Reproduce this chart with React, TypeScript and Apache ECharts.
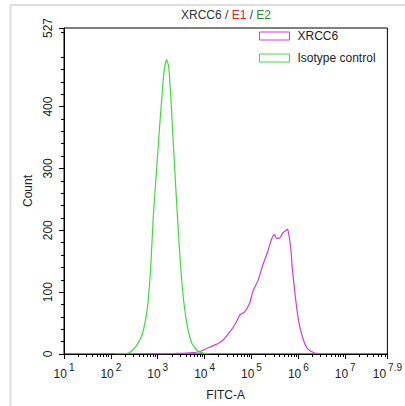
import React, { useEffect, useRef } from "react";
import * as echarts from "echarts";

// FITC-A expressed as log10 values
const isoLog = [2.1, 2.39, 2.53, 2.67, 2.78, 2.85, 2.905, 2.97, 3.03, 3.1, 3.14, 3.19, 3.237, 3.29, 3.34, 3.4, 3.46, 3.53, 3.62, 3.73, 3.87, 4.0, 4.12];
const isoCount = [0, 2, 12, 32, 75, 140, 222, 292, 357, 427, 460, 476, 462, 400, 330, 249, 173, 103, 50, 17, 4, 1, 0];

const xrccLog = [2.8, 3.0, 3.4, 3.7, 3.9, 4.08, 4.2, 4.29, 4.4, 4.51, 4.6, 4.68, 4.75, 4.855, 4.96, 5.03, 5.14, 5.24, 5.35, 5.42, 5.49, 5.535, 5.61, 5.67, 5.74, 5.77, 5.8, 5.84, 5.87, 5.94, 6.01, 6.09, 6.19, 6.33, 6.47];
const xrccCount = [0, 0, 1, 2, 4, 10, 14, 17, 23, 33, 42, 52, 63, 68, 82, 101, 119, 143, 166, 184, 193, 187, 188, 196, 200, 202, 192, 170, 140, 90, 52, 27, 9, 2, 0];

const xMajor = [1, 2, 3, 4, 5, 6, 7, 7.9];
const yMajor = [0, 100, 200, 300, 400, 527];
const xMin = 1;
const xMax = 7.9;
const yMin = 0;
const yMax = 527;

const seriesNames = ["XRCC6", "Isotype control"];
const colors = { xrcc: "#cc3fd0", iso: "#40da40" };

const FONT = "'Liberation Sans', Arial, sans-serif";

function buildXMinor(): number[] {
  const out: number[] = [];
  for (let n = 1; n < 8; n++) {
    for (let k = 2; k <= 9; k++) {
      const v = n + Math.log10(k);
      if (v < xMax) out.push(v);
    }
  }
  return out;
}
function buildYMinor(): number[] {
  const out: number[] = [];
  for (let v = 20; v < yMax; v += 20) if (v % 100 !== 0) out.push(v);
  return out;
}

export default function App() {
  const ref = useRef<HTMLDivElement>(null);
  useEffect(() => {
    document.body.style.margin = "0";
    if (!ref.current) return;
    const chart = echarts.init(ref.current, undefined, { renderer: "svg" });
    const zip = (xs: number[], ys: number[]) => xs.map((x, i) => [x, ys[i]]);
    const fmtX = (v: number) => {
      const e = Number(v.toFixed(1));
      return `{b|10}{s|${e}}`;
    };
    chart.setOption({
      animation: false,
      backgroundColor: "#fff",
      textStyle: { fontFamily: FONT },
      grid: {
        left: 64,
        right: 14,
        top: 28,
        bottom: 52,
        show: true,
        borderColor: "#000",
        borderWidth: 1,
        backgroundColor: "transparent",
      },
      graphic: [
        { type: "line", shape: { x1: 10, y1: 5, x2: 405, y2: 5 }, style: { stroke: "#dedede", lineWidth: 2 } },
        { type: "line", shape: { x1: 10.5, y1: 5, x2: 10.5, y2: 406 }, style: { stroke: "#dedede", lineWidth: 2 } },
        {
          type: "text",
          x: 226,
          y: 15,
          style: {
            text: "{a|XRCC6 / }{r|E1}{a| / }{g|E2}",
            align: "center",
            verticalAlign: "middle",
            font: `12px ${FONT}`,
            rich: {
              a: { fill: "#333", fontSize: 12, fontFamily: FONT },
              r: { fill: "#d22630", fontSize: 12, fontFamily: FONT },
              g: { fill: "#2e8b3a", fontSize: 12, fontFamily: FONT },
            },
          },
        },
      ],
      legend: {
        orient: "vertical",
        left: 259,
        top: 30,
        padding: 0,
        itemWidth: 30,
        itemHeight: 8,
        itemGap: 10,
        icon: "rect",
        textStyle: { fontSize: 12, color: "#222", fontFamily: FONT, padding: [0, 0, 0, 3] },
        data: [
          { name: seriesNames[0], itemStyle: { color: "transparent", borderColor: colors.xrcc, borderWidth: 1 } },
          { name: seriesNames[1], itemStyle: { color: "transparent", borderColor: colors.iso, borderWidth: 1 } },
        ],
      },
      xAxis: [
        {
          type: "value",
          min: xMin,
          max: xMax,
          position: "bottom",
          splitLine: { show: false },
          axisLine: { show: true, lineStyle: { color: "#000", width: 1 } },
          axisTick: { show: true, customValues: xMajor, length: 5, lineStyle: { color: "#000" } },
          axisLabel: {
            customValues: xMajor,
            formatter: fmtX,
            margin: 8,
            color: "#222",
            rich: {
              b: { fontSize: 12, fontFamily: FONT, color: "#222", lineHeight: 18, verticalAlign: "bottom" },
              s: { fontSize: 10, fontFamily: FONT, color: "#222", lineHeight: 10, verticalAlign: "top", padding: [0, 0, 0, 2] },
            },
          },
          name: "FITC-A",
          nameLocation: "middle",
          nameGap: 35,
          nameTextStyle: { fontSize: 12, color: "#222", fontFamily: FONT },
        },
        {
          type: "value",
          min: xMin,
          max: xMax,
          position: "bottom",
          splitLine: { show: false },
          axisLine: { show: false },
          axisLabel: { show: false },
          axisTick: { show: true, customValues: buildXMinor(), length: 3, lineStyle: { color: "#000" } },
        },
      ],
      yAxis: [
        {
          type: "value",
          min: yMin,
          max: yMax,
          position: "left",
          splitLine: { show: false },
          axisLine: { show: true, lineStyle: { color: "#000", width: 1 } },
          axisTick: { show: true, customValues: yMajor, length: 5, lineStyle: { color: "#000" } },
          axisLabel: { customValues: yMajor, rotate: 90, margin: 10, fontSize: 12, color: "#222", fontFamily: FONT },
          name: "Count",
          nameLocation: "middle",
          nameRotate: 90,
          nameGap: 30,
          nameTextStyle: { fontSize: 12, color: "#222", fontFamily: FONT },
        },
        {
          type: "value",
          min: yMin,
          max: yMax,
          position: "left",
          splitLine: { show: false },
          axisLine: { show: false },
          axisLabel: { show: false },
          axisTick: { show: true, customValues: buildYMinor(), length: 3, lineStyle: { color: "#000" } },
        },
      ],
      series: [
        {
          name: seriesNames[0],
          type: "line",
          xAxisIndex: 0,
          yAxisIndex: 0,
          data: zip(xrccLog, xrccCount),
          showSymbol: false,
          symbol: "none",
          smooth: 0.2,
          lineStyle: { color: colors.xrcc, width: 1.2 },
          itemStyle: { color: colors.xrcc },
        },
        {
          name: seriesNames[1],
          type: "line",
          xAxisIndex: 0,
          yAxisIndex: 0,
          data: zip(isoLog, isoCount),
          showSymbol: false,
          symbol: "none",
          smooth: 0.2,
          lineStyle: { color: colors.iso, width: 1.2 },
          itemStyle: { color: colors.iso },
        },
      ],
    });
    return () => chart.dispose();
  }, []);
  return <div ref={ref} style={{ width: 405, height: 406 }} />;
}
